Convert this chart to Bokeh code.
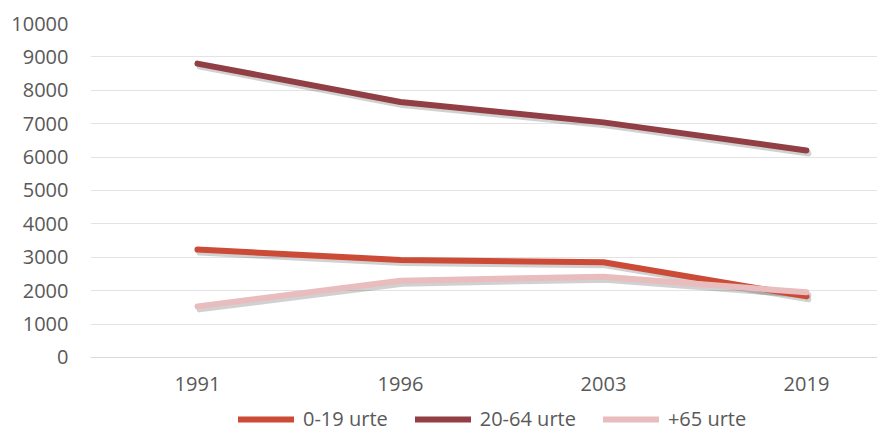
from bokeh.plotting import figure
from bokeh.models import Range1d, Legend, LegendItem, FixedTicker
from bokeh.embed import file_html
from bokeh.resources import INLINE

years = ["1991", "1996", "2003", "2019"]
age_0_19 = [3230, 2920, 2850, 1830]
age_20_64 = [8800, 7650, 7040, 6200]
age_65 = [1530, 2300, 2420, 1950]
y_ticks = [0, 1000, 2000, 3000, 4000, 5000, 6000, 7000, 8000, 9000, 10000]

names = ["0-19 urte", "20-64 urte", "+65 urte"]
colors = ["#CB4B36", "#913F45", "#E9BCBE"]
series = [age_0_19, age_20_64, age_65]

xs = list(range(len(years)))

FONT = "Open Sans"
TXT = "#595959"
X0, X1 = -0.527, 3.350
Y0, Y1 = -2246, 10000

p = figure(width=877, height=432, output_backend="svg", toolbar_location=None,
           x_range=Range1d(X0, X1), y_range=Range1d(Y0, Y1),
           min_border_left=90, min_border_right=0, min_border_top=23,
           min_border_bottom=0)
p.outline_line_color = None
p.background_fill_color = "white"
p.border_fill_color = "white"

# shadow range, shifted by a few pixels
p.extra_y_ranges = {"sh": Range1d(Y0 + 90, Y1 + 90)}
p.extra_x_ranges = {"sh": Range1d(X0 - 0.01, X1 - 0.01)}

for s in series:
    p.line(xs, s, line_width=6, line_color="#000000", line_alpha=0.18,
           line_cap="round", line_join="round", x_range_name="sh", y_range_name="sh")

renderers = []
for s, c in zip(series, colors):
    r = p.line(xs, s, line_width=6, line_color=c, line_cap="round", line_join="round")
    renderers.append(r)

# axes
p.xaxis.fixed_location = 0
p.xaxis.ticker = FixedTicker(ticks=xs)
p.xaxis.major_label_overrides = {i: y for i, y in enumerate(years)}
p.xaxis.axis_line_color = "#D9D9D9"
p.xaxis.major_tick_line_color = None
p.xaxis.minor_tick_line_color = None
p.xaxis.major_label_standoff = 14
p.xaxis.major_label_text_font = FONT
p.xaxis.major_label_text_font_size = "20px"
p.xaxis.major_label_text_color = TXT

p.yaxis.ticker = FixedTicker(ticks=y_ticks)
p.yaxis.axis_line_color = None
p.yaxis.major_tick_line_color = None
p.yaxis.minor_tick_line_color = None
p.yaxis.major_label_standoff = 16
p.yaxis.major_label_text_font = FONT
p.yaxis.major_label_text_font_size = "20px"
p.yaxis.major_label_text_color = TXT

p.xgrid.grid_line_color = None
p.ygrid.grid_line_color = "#E3E3E3"
p.ygrid.grid_line_width = 1
p.ygrid.ticker = FixedTicker(ticks=y_ticks[1:])

legend = Legend(items=[LegendItem(label=n, renderers=[r]) for n, r in zip(names, renderers)],
                orientation="horizontal", location=(148, 0),
                glyph_width=56, glyph_height=16, label_height=16,
                label_standoff=9, spacing=27, padding=0, margin=0,
                border_line_color=None, background_fill_alpha=0,
                label_text_font=FONT, label_text_font_size="20px",
                label_text_color=TXT)
p.add_layout(legend, "center")

open("out.html", "w").write(file_html(p, INLINE))
